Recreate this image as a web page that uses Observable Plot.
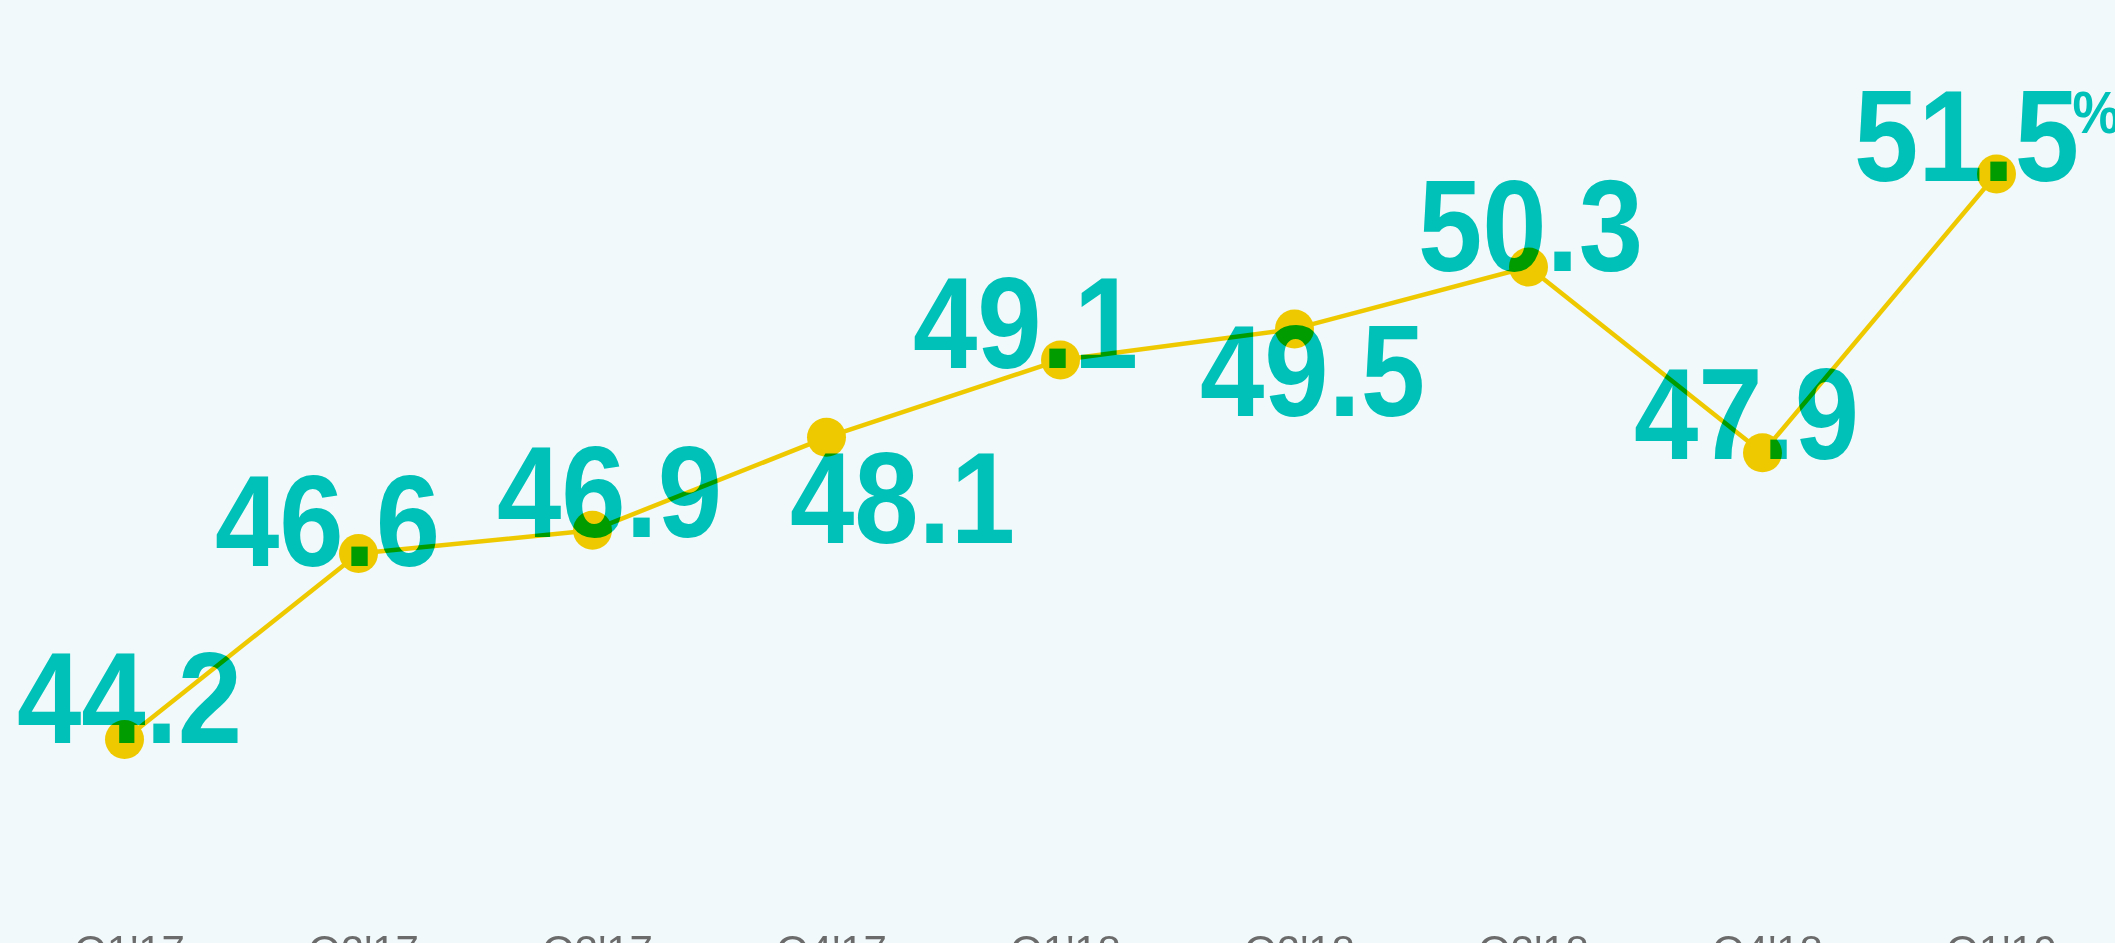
<!DOCTYPE html>
<html>
<head>
<meta charset="utf-8">
<script src="https://cdn.jsdelivr.net/npm/d3@7"></script>
<script src="https://cdn.jsdelivr.net/npm/@observablehq/plot@0.6"></script>
<style>
  html, body { margin: 0; padding: 0; background: #f1f9fb; overflow: hidden; }
  #chart svg { display: block; }
  g[aria-label="text"] text { mix-blend-mode: multiply; }
</style>
</head>
<body>
<div id="chart"></div>
<script>
// ---- data ----
const quarters = ["Q1'17", "Q2'17", "Q3'17", "Q4'17", "Q1'18", "Q2'18", "Q3'18", "Q4'18", "Q1'19"];
const shares = [44.2, 46.6, 46.9, 48.1, 49.1, 49.5, 50.3, 47.9, 51.5];

// ---- label layout nudges (px) ----
const labelNudgeX = [5, -31, 17, 76, -35, 18, 2, -16, -30];
const labelNudgeY = [4, 12, 7, 106, 8, 87, 4, 6, 7];

const data = quarters.map((q, i) => ({ q, v: shares[i] }));

const YELLOW = "#efc900";
const TEAL = "#00c6bb";
const NUM_FONT = "'Liberation Sans Narrow', 'Arial Narrow', 'Liberation Sans', Arial, sans-serif";
const CONDENSE = 0.89;

const labelMarks = data.map((d, i) =>
  Plot.text([d], {
    x: "q", y: "v",
    text: (d) => d.v.toFixed(1),
    dx: labelNudgeX[i], dy: labelNudgeY[i],
    textAnchor: "middle", lineAnchor: "bottom",
    fontSize: 130, fontWeight: "bold", fontFamily: NUM_FONT,
    fill: TEAL
  })
);

const last = data[data.length - 1];

const chart = Plot.plot({
  width: 2115,
  height: 943,
  marginTop: 0, marginRight: 0, marginLeft: 0, marginBottom: 8,
  style: { background: "#f1f9fb", overflow: "visible" },
  x: { type: "point", domain: quarters, range: [123, 1997], padding: 0 },
  y: { domain: [44, 52], range: [754.4, 134.8], axis: null },
  marks: [
    Plot.line(data, { x: "q", y: "v", stroke: YELLOW, strokeWidth: 4.5 }),
    Plot.dot(data, { x: "q", y: "v", r: 19.5, fill: YELLOW, stroke: "none" }),
    ...labelMarks,
    Plot.text([last], {
      x: "q", y: "v", text: () => "%",
      dx: 76, dy: -41,
      textAnchor: "start", lineAnchor: "bottom",
      fontSize: 60, fontWeight: "bold", fontFamily: NUM_FONT, fill: TEAL
    }),
    Plot.axisX({
      tickSize: 0, tickPadding: 0, dx: 5,
      fontSize: 42, fontFamily: "'Liberation Sans', Arial, sans-serif",
      fill: "#6b6b6b", label: null
    })
  ]
});

// condense the big number labels horizontally (condensed bold look)
chart.querySelectorAll('g[aria-label="text"] text').forEach((t) => {
  const x = t.getAttribute("x");
  const y = t.getAttribute("y");
  let tr = t.getAttribute("transform") || "";
  if (x !== null || y !== null) {
    tr = `translate(${x || 0},${y || 0}) ` + tr;
    t.removeAttribute("x");
    t.removeAttribute("y");
  }
  t.setAttribute("transform", `${tr} scale(${CONDENSE},1)`);
});

document.getElementById("chart").appendChild(chart);
</script>
</body>
</html>
